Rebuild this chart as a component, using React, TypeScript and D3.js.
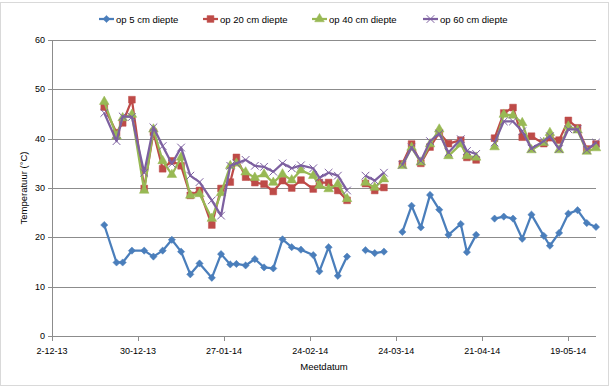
import React, { useEffect, useRef } from "react";
import * as d3 from "d3";

// meetdatums (lege rij = onderbreking in de lijn)
const dates = [
  "19-12-2013", "23-12-2013", "25-12-2013", "28-12-2013", "01-01-2014", "04-01-2014",
  "07-01-2014", "10-01-2014", "13-01-2014", "16-01-2014", "19-01-2014", "23-01-2014",
  "26-01-2014", "29-01-2014", "31-01-2014", "03-02-2014", "06-02-2014", "09-02-2014",
  "12-02-2014", "15-02-2014", "18-02-2014", "21-02-2014", "25-02-2014", "27-02-2014",
  "02-03-2014", "05-03-2014", "08-03-2014", "11-03-2014", "14-03-2014", "17-03-2014",
  "20-03-2014", "23-03-2014", "26-03-2014", "29-03-2014", "01-04-2014", "04-04-2014",
  "07-04-2014", "10-04-2014", "14-04-2014", "16-04-2014", "19-04-2014", "22-04-2014",
  "25-04-2014", "28-04-2014", "01-05-2014", "04-05-2014", "07-05-2014", "11-05-2014",
  "13-05-2014", "16-05-2014", "19-05-2014", "22-05-2014", "25-05-2014", "28-05-2014",
];

const op5 = [
  22.5, 14.9, 14.9, 17.3, 17.3, 16.1, 17.3, 19.5, 17.1, 12.5, 14.7, 11.8,
  16.6, 14.5, 14.6, 14.3, 15.6, 13.9, 13.7, 19.6, 18.0, 17.5, 16.4, 13.1,
  18.0, 12.2, 16.1, null, 17.4, 16.8, 17.1, null, 21.1, 26.4, 22.0, 28.6,
  25.6, 20.5, 22.7, 17.0, 20.5, null, 23.8, 24.2, 23.8, 19.7, 24.6, 20.3,
  18.3, 20.9, 24.8, 25.5, 22.9, 22.1,
];

const op20 = [
  46.4, 41.2, 43.2, 47.9, 29.9, 41.3, 33.9, 35.5, 34.5, 28.5, 29.5, 22.5,
  29.9, 31.2, 36.2, 32.2, 31.1, 30.8, 29.3, 31.5, 30.0, 31.6, 29.8, 31.1,
  31.1, 29.5, 27.5, null, 30.9, 29.5, 30.1, null, 34.9, 38.9, 35.0, 38.3,
  41.2, 39.0, 39.7, 36.2, 35.7, null, 40.1, 45.2, 46.3, 40.3, 40.5, 39.0,
  40.2, 39.7, 43.7, 42.2, 37.9, 38.9,
];

const op40 = [
  47.5, 40.5, 44.2, 44.9, 29.5, 41.9, 35.5, 32.7, 36.2, 28.5, 28.8, 23.8,
  29.0, 34.5, 35.0, 33.2, 32.1, 32.8, 31.1, 32.8, 31.6, 33.6, 32.5, 30.5,
  29.8, 30.8, 27.8, null, 31.1, 30.1, 31.8, null, 34.5, 38.2, 35.2, 38.9,
  41.9, 36.5, 38.9, 36.5, 36.2, null, 38.3, 44.9, 44.7, 43.2, 37.7, 39.2,
  41.2, 37.7, 42.5, 41.7, 37.4, 38.1,
];

const op60 = [
  45.2, 39.5, 44.5, 44.4, 33.1, 42.3, 38.5, 34.9, 38.2, 32.5, 31.2, 27.5,
  24.4, 34.5, 35.0, 35.7, 34.5, 34.3, 33.3, 35.0, 34.0, 34.6, 34.0, 32.1,
  33.1, 32.5, 29.5, null, 32.5, 31.5, 33.1, null, 34.7, 38.2, 35.5, 39.5,
  41.0, 37.2, 39.9, 37.5, 36.9, null, 39.2, 43.5, 43.5, 41.5, 38.0, 39.5,
  40.5, 37.9, 41.9, 41.9, 37.7, 39.2,
];

const seriesNames = ["op 5 cm diepte", "op 20 cm diepte", "op 40 cm diepte", "op 60 cm diepte"];
const seriesColors = ["#4a7ebb", "#be4b48", "#98b954", "#7d60a0"];
const yTicks = [0, 10, 20, 30, 40, 50, 60];
const xStart = "02-12-2013";
const xEnd = "28-05-2014";

const App: React.FC = () => {
  const ref = useRef<SVGSVGElement | null>(null);

  useEffect(() => {
    if (!ref.current) return;
    const width = 609;
    const height = 388;
    const left = 52, right = 596, top = 40, bottom = 336;
    const font = "'Liberation Sans', Arial, sans-serif";

    const svg = d3.select(ref.current);
    svg.selectAll("*").remove();
    svg.attr("width", width).attr("height", height);

    const parse = d3.timeParse("%d-%m-%Y");
    const x = d3.scaleTime()
      .domain([parse(xStart)!, parse(xEnd)!])
      .range([left, right]);
    const y = d3.scaleLinear().domain([0, 60]).range([bottom, top]);

    svg.append("rect")
      .attr("x", 0.5).attr("y", 2.5)
      .attr("width", width - 1).attr("height", height - 5)
      .attr("fill", "white")
      .attr("stroke", "#d9d9d9");

    // horizontale rasterlijnen
    yTicks.forEach(t => {
      svg.append("line")
        .attr("x1", left - 4).attr("x2", right)
        .attr("y1", Math.round(y(t)) + 0.5).attr("y2", Math.round(y(t)) + 0.5)
        .attr("stroke", "#8c8c8c")
        .attr("stroke-width", 1);
      svg.append("text")
        .attr("x", left - 7)
        .attr("y", y(t) + 3)
        .attr("text-anchor", "end")
        .attr("font-family", font)
        .attr("font-size", "9px")
        .attr("fill", "#000")
        .text(t);
    });

    // y-as
    svg.append("line")
      .attr("x1", left + 0.5).attr("x2", left + 0.5)
      .attr("y1", top).attr("y2", bottom + 0.5)
      .attr("stroke", "#8c8c8c");

    // x-as met tickmarks om de 28 dagen
    const xTicks = d3.range(0, 7).map(i => d3.timeDay.offset(parse(xStart)!, i * 28));
    const fmt = d3.timeFormat("%-d-%m-%y");
    xTicks.forEach(t => {
      const px = Math.round(x(t)) + 0.5;
      svg.append("line")
        .attr("x1", px).attr("x2", px)
        .attr("y1", bottom).attr("y2", bottom + 5)
        .attr("stroke", "#8c8c8c");
      svg.append("text")
        .attr("x", x(t))
        .attr("y", bottom + 18)
        .attr("text-anchor", "middle")
        .attr("font-family", font)
        .attr("font-size", "9px")
        .attr("fill", "#000")
        .text(fmt(t));
    });

    svg.append("text")
      .attr("x", (left + right) / 2)
      .attr("y", bottom + 34)
      .attr("text-anchor", "middle")
      .attr("font-family", font)
      .attr("font-size", "9.5px")
      .text("Meetdatum");

    svg.append("text")
      .attr("transform", `translate(27,${(top + bottom) / 2}) rotate(-90)`)
      .attr("text-anchor", "middle")
      .attr("font-family", font)
      .attr("font-size", "9.5px")
      .text("Temperatuur (°C)");

    const symbols = [d3.symbolSquare, d3.symbolSquare, d3.symbolTriangle, d3.symbolX];
    const sizes = [26, 46, 40, 40];
    const allSeries = [op5, op20, op40, op60];
    const dateObjs = dates.map(d => parse(d)!);

    const drawMarker = (g: any, i: number, cx: number, cy: number) => {
      const sym = d3.symbol().type(symbols[i]).size(sizes[i]);
      const rot = i === 0 ? " rotate(45)" : "";
      const m = g.append("path")
        .attr("d", sym() || "")
        .attr("transform", `translate(${cx},${cy})${rot}`);
      if (i === 3) {
        m.attr("fill", "none").attr("stroke", seriesColors[i]).attr("stroke-width", 1);
      } else {
        m.attr("fill", seriesColors[i]).attr("stroke", seriesColors[i]).attr("stroke-width", 0.5);
      }
    };

    allSeries.forEach((vals, i) => {
      const pts = dateObjs.map((d, k) => ({ d, v: vals[k] }));
      const line = d3.line<{ d: Date; v: number | null }>()
        .defined(p => p.v !== null)
        .x(p => x(p.d))
        .y(p => y(p.v as number));
      const g = svg.append("g");
      g.append("path")
        .attr("d", line(pts) || "")
        .attr("fill", "none")
        .attr("stroke", seriesColors[i])
        .attr("stroke-width", 2.25)
        .attr("stroke-linejoin", "round");
      pts.filter(p => p.v !== null).forEach(p => drawMarker(g, i, x(p.d), y(p.v as number)));
    });

    // legenda
    const legendX = [99, 203, 312, 423];
    const ly = 19;
    seriesNames.forEach((name, i) => {
      const g = svg.append("g");
      g.append("line")
        .attr("x1", legendX[i]).attr("x2", legendX[i] + 15)
        .attr("y1", ly).attr("y2", ly)
        .attr("stroke", seriesColors[i])
        .attr("stroke-width", 2.25);
      drawMarker(g, i, legendX[i] + 7.5, ly);
      g.append("text")
        .attr("x", legendX[i] + 17)
        .attr("y", ly + 3.5)
        .attr("font-family", font)
        .attr("font-size", "9.5px")
        .text(name);
    });
  }, []);

  return (
    <div style={{ position: "absolute", left: 0, top: 0, width: 609, height: 388, background: "#fff" }}>
      <svg ref={ref} />
    </div>
  );
};

export default App;
